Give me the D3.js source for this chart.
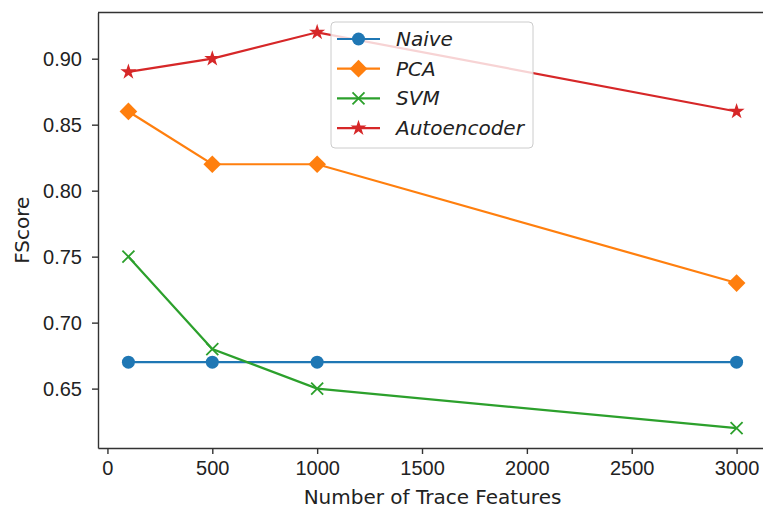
<!DOCTYPE html>
<html>
<head>
<meta charset="utf-8">
<script src="https://cdn.jsdelivr.net/npm/d3@7"></script>
<style>
  body { margin: 0; background: #fff; }
  svg { display: block; font-family: 'DejaVu Sans', sans-serif; }
  .axis text { font-size: 20px; fill: #222; }
  .axis path, .axis line { stroke: #333; stroke-width: 1.4; }
</style>
</head>
<body>
<svg id="chart" width="763" height="510"></svg>
<script>
const features = [100, 500, 1000, 3000];
const naive = [0.67, 0.67, 0.67, 0.67];
const pca = [0.86, 0.82, 0.82, 0.73];
const svm = [0.75, 0.68, 0.65, 0.62];
const autoencoder = [0.89, 0.90, 0.92, 0.86];
const xTicks = [0, 500, 1000, 1500, 2000, 2500, 3000];
const yTicks = [0.65, 0.70, 0.75, 0.80, 0.85, 0.90];

const series = [
  { name: 'Naive', values: naive, color: '#1f77b4', marker: 'circle' },
  { name: 'PCA', values: pca, color: '#ff7f0e', marker: 'diamond' },
  { name: 'SVM', values: svm, color: '#2ca02c', marker: 'x' },
  { name: 'Autoencoder', values: autoencoder, color: '#d62728', marker: 'star' }
];

const margin = { top: 12.5, right: -4, bottom: 62, left: 98 },
  width = 763 - margin.left - margin.right,
  height = 510 - margin.top - margin.bottom;

const svg = d3.select('#chart');
const g = svg.append('g').attr('transform', `translate(${margin.left},${margin.top})`);

const x = d3.scaleLinear().domain([-45, 3145]).range([0, width]);
const y = d3.scaleLinear().domain([0.605, 0.935]).range([height, 0]);

g.append('g')
  .attr('class', 'axis')
  .attr('transform', `translate(0,${height})`)
  .call(d3.axisBottom(x).tickValues(xTicks).tickSize(6).tickSizeOuter(0).tickPadding(7).tickFormat(d3.format('d')));

g.append('g')
  .attr('class', 'axis')
  .call(d3.axisLeft(y).tickValues(yTicks).tickSize(6).tickSizeOuter(0).tickPadding(10).tickFormat(d3.format('.2f')));

// top spine
g.append('line').attr('x1', 0).attr('x2', width).attr('y1', 0).attr('y2', 0)
  .attr('stroke', '#333').attr('stroke-width', 1.4);

const line = d3.line().x((d, i) => x(features[i])).y(d => y(d));

function drawMarker(sel, type, color) {
  if (type === 'circle') {
    sel.append('circle').attr('r', 6.5).attr('fill', color);
  } else if (type === 'diamond') {
    sel.append('path').attr('d', d3.symbol(d3.symbolDiamond2, 200)()).attr('fill', color);
  } else if (type === 'x') {
    sel.append('path').attr('d', 'M-6,-6L6,6M-6,6L6,-6').attr('stroke', color).attr('stroke-width', 1.8).attr('fill', 'none');
  } else if (type === 'star') {
    sel.append('path').attr('d', d3.symbol(d3.symbolStar, 80)()).attr('fill', color);
  }
}

series.forEach(s => {
  g.append('path')
    .attr('d', line(s.values))
    .attr('fill', 'none')
    .attr('stroke', s.color)
    .attr('stroke-width', 2.2);
  s.values.forEach((v, i) => {
    const m = g.append('g').attr('transform', `translate(${x(features[i])},${y(v)})`);
    drawMarker(m, s.marker, s.color);
  });
});

// axis labels
svg.append('text')
  .attr('x', margin.left + width / 2)
  .attr('y', 504)
  .attr('text-anchor', 'middle')
  .attr('font-size', 20)
  .attr('fill', '#222')
  .text('Number of Trace Features');

svg.append('text')
  .attr('transform', `translate(29,${margin.top + height / 2}) rotate(-90)`)
  .attr('text-anchor', 'middle')
  .attr('font-size', 20)
  .attr('fill', '#222')
  .text('FScore');

// legend
const legend = svg.append('g').attr('transform', 'translate(331,22)');
legend.append('rect')
  .attr('width', 202).attr('height', 126).attr('rx', 4)
  .attr('fill', '#fff').attr('fill-opacity', 0.8)
  .attr('stroke', '#ccc').attr('stroke-width', 1);
series.forEach((s, i) => {
  const row = legend.append('g').attr('transform', `translate(0,${17 + i * 29.7})`);
  row.append('line').attr('x1', 6).attr('x2', 49).attr('stroke', s.color).attr('stroke-width', 2.2);
  drawMarker(row.append('g').attr('transform', 'translate(27.5,0)'), s.marker, s.color);
  row.append('text')
    .attr('x', 65).attr('dy', '0.35em')
    .attr('font-size', 20)
    .attr('font-style', 'italic')
    .attr('fill', '#222')
    .text(s.name);
});
</script>
</body>
</html>
